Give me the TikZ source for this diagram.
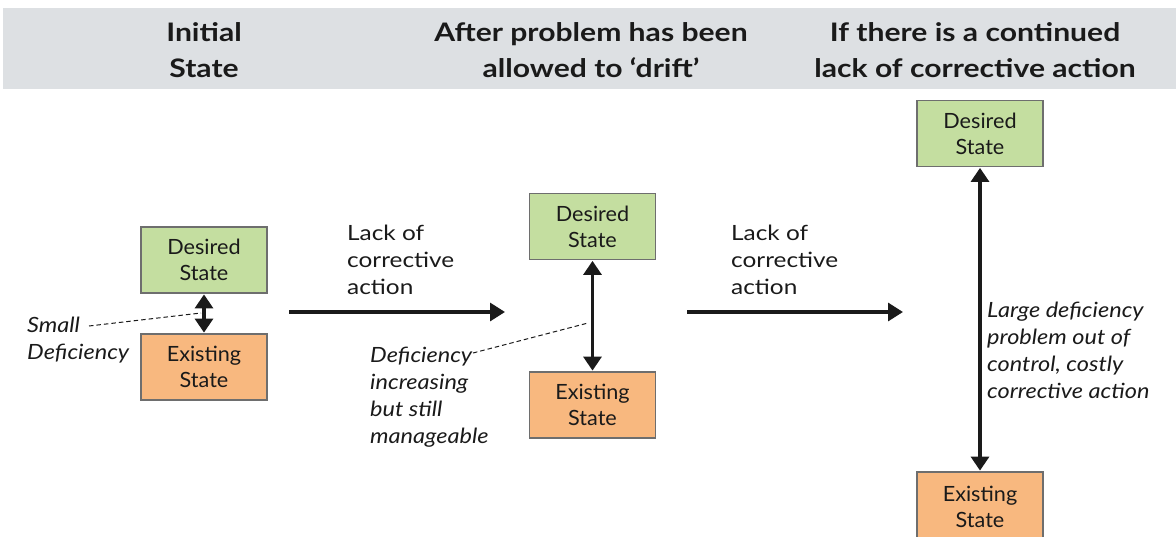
\documentclass[tikz,border=0pt]{standalone}
\usepackage{fontspec}
\setmainfont{Lato}
\newfontfamily\hdrfont[FakeStretch=1.18]{Lato}
\newfontfamily\lblfont[FakeStretch=1.16]{Lato}
\newfontfamily\itlfont[FakeStretch=1.12]{Lato}
\newfontfamily\boxfont[FakeStretch=1.03]{Lato}
\usetikzlibrary{arrows.meta}
\definecolor{hdrgray}{HTML}{DDE0E3}
\definecolor{desgreen}{HTML}{C4DEA0}
\definecolor{exorange}{HTML}{F8B87F}
\definecolor{boxline}{HTML}{6E6E6E}
\definecolor{ink}{HTML}{1A1A1A}
\tikzset{
  statebox/.style={draw=boxline, line width=1.8pt, minimum width=126pt, minimum height=66pt, inner sep=0pt, align=center, font=\boxfont\fontsize{21}{26}\selectfont, text=ink},
  desbox/.style={statebox, fill=desgreen},
  exbox/.style={statebox, fill=exorange},
  hdr/.style={align=center, font=\hdrfont\fontsize{25.5}{36}\selectfont\bfseries, text=ink},
  lbl/.style={align=left, inner sep=0pt, anchor=west, font=\lblfont\fontsize{21}{27}\selectfont, text=ink},
  ilbl/.style={lbl, font=\itlfont\fontsize{21}{27}\selectfont\itshape},
  dbl/.style={line width=3.2pt, ink, {Triangle[length=14pt,width=18pt]}-{Triangle[length=14pt,width=18pt]}, shorten <=0.5pt, shorten >=0.5pt},
  fwd/.style={line width=3.2pt, ink, -{Triangle[length=15pt,width=18pt]}},
  lead/.style={line width=1pt, ink, dash pattern=on 4.5pt off 3pt}
}
\begin{document}
\begin{tikzpicture}[x=1pt, y=-1pt]
\useasboundingbox (0,0) rectangle (1176,536);
\clip (0,0) rectangle (1176,536);
% header band
\fill[hdrgray] (3,8) rectangle (1176,89);
\node[hdr] (h1) at (204,50) {Initial\\State};
\node[hdr] (h2) at (591,50) {After problem has been\\allowed to ‘drift’};
\node[hdr] (h3) at (975,50) {If there is a continued\\lack of corrective action};
% stage 1
\node[desbox] (d1) at (204,260) {Desired\\State};
\node[exbox] (e1) at (204,367) {Existing\\State};
\draw[dbl] (d1.south) -- (e1.north);
\node[ilbl] (s1) at (27,340) {Small\\Deficiency};
\coordinate (s1a) at (89,326);
\coordinate (s1b) at (201,313);
\draw[lead] (s1a) -- (s1b);
% arrow 1
\coordinate (a1s) at (289,312);
\coordinate (a1e) at (505,312);
\draw[fwd] (a1s) -- (a1e);
\node[lbl] (l1) at (347,260) {Lack of\\corrective\\action};
% stage 2
\node[desbox] (d2) at (592.5,226.5) {Desired\\State};
\node[exbox] (e2) at (592.5,405) {Existing\\State};
\draw[dbl] (d2.south) -- (e2.north);
\node[ilbl] (s2) at (370,397) {Deficiency\\increasing\\but still\\manageable};
\coordinate (s2a) at (473,353);
\coordinate (s2b) at (588,323);
\draw[lead] (s2a) -- (s2b);
% arrow 2
\coordinate (a2s) at (687,312);
\coordinate (a2e) at (903,312);
\draw[fwd] (a2s) -- (a2e);
\node[lbl] (l2) at (731,260) {Lack of\\corrective\\action};
% stage 3
\node[desbox] (d3) at (980,133.5) {Desired\\State};
\node[exbox, minimum height=70pt] (e3) at (980,507) {Existing\\State};
\draw[dbl] (d3.south) -- (e3.north);
\node[ilbl] (s3) at (987,350) {Large deficiency\\problem out of\\control, costly\\corrective action};
\end{tikzpicture}
\end{document}
